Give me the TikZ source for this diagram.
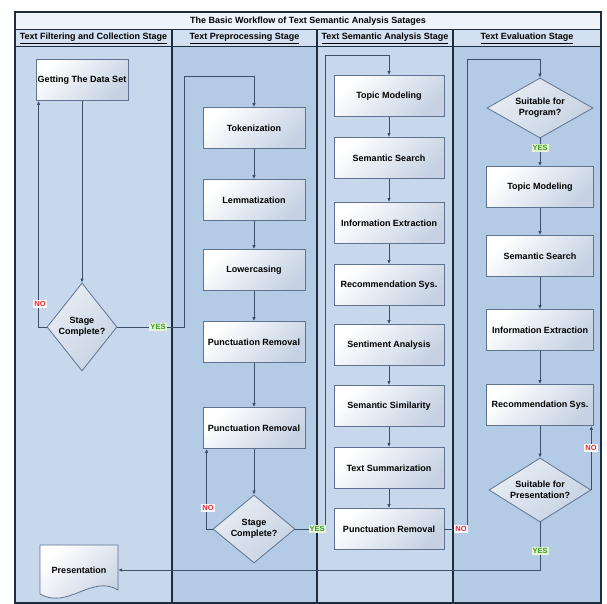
\documentclass[tikz,border=0pt]{standalone}
\usepackage{fontspec}
\setmainfont{Liberation Sans}
\usetikzlibrary{shapes.geometric,arrows.meta}

\definecolor{lanelight}{HTML}{C8D8EC}
\definecolor{lanedark}{HTML}{B3CBE4}
\definecolor{titlefill}{HTML}{EEF3FA}
\definecolor{headfill}{HTML}{D2E0F1}
\definecolor{framecol}{HTML}{1E2C3C}
\definecolor{boxline}{HTML}{5F7390}
\definecolor{boxfill}{HTML}{C6D2E3}
\definecolor{flowline}{HTML}{3A4F68}
\definecolor{yesgreen}{HTML}{3A9A22}
\definecolor{yesfill}{HTML}{E4F4D4}
\definecolor{nored}{HTML}{E8262A}

\tikzset{
  stagebox/.style={draw=boxline, line width=0.8pt, top color=white, bottom color=boxfill, shading angle=45,
    minimum height=41pt, inner sep=1pt, font=\bfseries\fontsize{9}{11}\selectfont},
  decision/.style={diamond, draw=boxline, line width=0.8pt, top color=white!60!boxfill, bottom color=boxfill, shading angle=45,
    inner sep=1pt, align=center, font=\bfseries\fontsize{9}{11}\selectfont},
  flow/.style={draw=flowline, line width=0.8pt, -{Latex[length=4pt,width=3.5pt]}},
  yeslbl/.style={fill=yesfill, text=yesgreen, inner sep=1pt, font=\bfseries\fontsize{7.5}{8}\selectfont},
  nolbl/.style={fill=white, text=nored, inner sep=1pt, font=\bfseries\fontsize{7.5}{8}\selectfont},
  headtext/.style={font=\bfseries\fontsize{9}{11}\selectfont}
}

\begin{document}
\begin{tikzpicture}[x=1pt, y=-1pt]
        \useasboundingbox (0,0) rectangle (607,604);

        \fill[titlefill] (15,12) rectangle (601,30);
        \fill[headfill] (15,30) rectangle (601,47);
        \fill[lanelight] (15,47) rectangle (172,603);
        \fill[lanedark] (172,47) rectangle (317,603);
        \fill[lanelight] (317,47) rectangle (453,603);
        \fill[lanedark] (453,47) rectangle (601,603);
        \draw[framecol, line width=1pt] (15,30) -- (601,30) (15,47) -- (601,47);
        \draw[framecol, line width=1.2pt] (172,30) -- (172,603) (317,30) -- (317,603) (453,30) -- (453,603);
        \draw[framecol, line width=1.2pt] (15,12) rectangle (601,603);

        \node[headtext] (title) at (308,21) {The Basic Workflow of Text Semantic Analysis Satages};
        \node[headtext] (headA) at (93.5,38.5) {\underline{Text Filtering and Collection Stage}};
        \node[headtext] (headB) at (244.5,38.5) {\underline{Text Preprocessing Stage}};
        \node[headtext] (headC) at (385,38.5) {\underline{Text Semantic Analysis Stage}};
        \node[headtext] (headD) at (527,38.5) {\underline{Text Evaluation Stage}};

        \node[stagebox, minimum width=92pt] (getdata) at (82,80) {Getting The Data Set};
        \node[decision, aspect=0.8, minimum width=70pt, minimum height=88pt] (stageA) at (82,327) {Stage\\Complete?};
        \draw[boxline, line width=0.8pt, top color=white, bottom color=boxfill, shading angle=45]
            (40,545) -- (118,545) -- (118,590) .. controls (92,574) and (68,610) .. (40,594) -- cycle;
        \node[minimum width=78pt, minimum height=50pt, inner sep=0pt, font=\bfseries\fontsize{9}{11}\selectfont] (pres) at (79,570) {Presentation};

        \node[stagebox, minimum width=102pt] (tok) at (254,128) {Tokenization};
        \node[stagebox, minimum width=102pt] (lem) at (254,200) {Lemmatization};
        \node[stagebox, minimum width=102pt] (low) at (254,270) {Lowercasing};
        \node[stagebox, minimum width=102pt] (punA) at (254,342) {Punctuation Removal};
        \node[stagebox, minimum width=102pt] (punB) at (254,428) {Punctuation Removal};
        \node[decision, aspect=1.2, minimum width=82pt, minimum height=68pt] (stageB) at (254,529) {Stage\\Complete?};

        \node[stagebox, minimum width=110pt] (topicA) at (389,96) {Topic Modeling};
        \node[stagebox, minimum width=110pt] (searchA) at (389,158) {Semantic Search};
        \node[stagebox, minimum width=110pt] (infoA) at (389,223) {Information Extraction};
        \node[stagebox, minimum width=110pt] (recA) at (389,285) {Recommendation Sys.};
        \node[stagebox, minimum width=110pt] (sentA) at (389,345) {Sentiment Analysis};
        \node[stagebox, minimum width=110pt] (simA) at (389,406) {Semantic Similarity};
        \node[stagebox, minimum width=110pt] (summA) at (389,468) {Text Summarization};
        \node[stagebox, minimum width=110pt] (punC) at (389,529) {Punctuation Removal};

        \node[decision, aspect=2, minimum width=106pt, minimum height=60pt] (suitA) at (540,108) {Suitable for\\Program?};
        \node[stagebox, minimum width=107pt] (topicB) at (540,187) {Topic Modeling};
        \node[stagebox, minimum width=107pt] (searchB) at (540,256) {Semantic Search};
        \node[stagebox, minimum width=107pt] (infoB) at (540,330) {Information Extraction};
        \node[stagebox, minimum width=107pt] (recB) at (540,405) {Recommendation Sys.};
        \node[decision, aspect=1.6, minimum width=102pt, minimum height=64pt] (suitB) at (540,490) {Suitable for\\Presentation?};

        \coordinate (loopA) at (184,76);
        \coordinate (loopB) at (325,55);
        \coordinate (loopC) at (467,59);

        \draw[flow] (getdata) -- (stageA);
        \draw[flow] (stageA.west) -| ([xshift=3pt]getdata.south west);
        \draw[flow] (stageA.east) -| (loopA) -| (tok.north);

        \draw[flow] (tok) -- (lem);
        \draw[flow] (lem) -- (low);
        \draw[flow] (low) -- (punA);
        \draw[flow] (punA) -- (punB);
        \draw[flow] (punB) -- (stageB);
        \draw[flow] (stageB.west) -| ([xshift=4pt]punB.south west);
        \draw[flow] (stageB.east) -| (loopB) -| (topicA.north);

        \draw[flow] (topicA) -- (searchA);
        \draw[flow] (searchA) -- (infoA);
        \draw[flow] (infoA) -- (recA);
        \draw[flow] (recA) -- (sentA);
        \draw[flow] (sentA) -- (simA);
        \draw[flow] (simA) -- (summA);
        \draw[flow] (summA) -- (punC);
        \draw[flow] (punC.east) -| (loopC) -| (suitA.north);

        \draw[flow] (suitA) -- (topicB);
        \draw[flow] (topicB) -- (searchB);
        \draw[flow] (searchB) -- (infoB);
        \draw[flow] (infoB) -- (recB);
        \draw[flow] (recB) -- (suitB);
        \draw[flow] (suitB.east) -- (suitB.east |- recB.south);
        \draw[flow] (suitB.south) |- (pres.east);

        \node[nolbl] (noA) at (40,304) {NO};
        \node[yeslbl] (yesA) at (158,327) {YES};
        \node[nolbl] (noB) at (208,508) {NO};
        \node[yeslbl] (yesB) at (317,529) {YES};
        \node[nolbl] (noC) at (461,529) {NO};
        \node[yeslbl] (yesC) at (540,148) {YES};
        \node[nolbl] (noD) at (591,448) {NO};
        \node[yeslbl] (yesD) at (540,551) {YES};

\end{tikzpicture}
\end{document}
